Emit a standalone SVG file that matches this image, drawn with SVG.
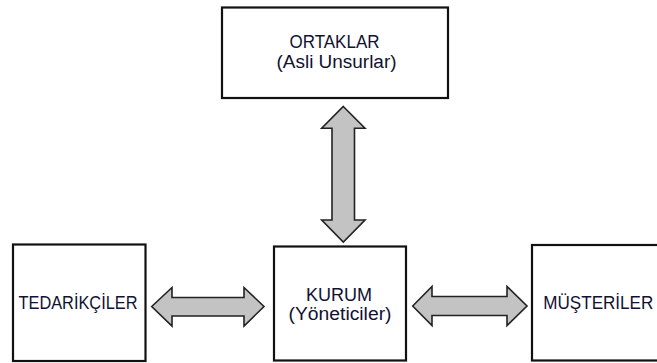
<svg xmlns="http://www.w3.org/2000/svg" width="657" height="363" viewBox="0 0 657 363">
<style>
.box{fill:#ffffff;stroke:#111111;stroke-width:2.2}
.arr{fill:#c3c3c3;stroke:#222222;stroke-width:1.6;stroke-linejoin:miter}
.t{font-family:"Liberation Sans",Arial,sans-serif;font-size:18px;fill:#111133;text-anchor:middle}
</style>
<rect width="657" height="363" fill="#ffffff"/>
<g id="connectors">
<path class="arr" d="M343.3,106.5 L365,128.3 L354.5,128.3 L354.5,220 L365,220 L343.3,242 L321.7,220 L332,220 L332,128.3 L321.7,128.3 Z"/>
<path class="arr" d="M151.7,306.5 L172,287.5 L172,297.5 L244,297.5 L244,287.5 L264,306.5 L244,326 L244,316 L172,316 L172,326 Z"/>
<path class="arr" d="M412.7,306 L432,286.5 L432,296.5 L507,296.5 L507,286.5 L527,306 L507,325.5 L507,315.5 L432,315.5 L432,325.5 Z"/>
</g>
<g id="ortaklar">
<rect class="box" x="222" y="7.5" width="226" height="90.5"/>
<text class="t" x="334.5" y="48.3" textLength="90" lengthAdjust="spacingAndGlyphs">ORTAKLAR</text>
<text class="t" x="336.5" y="68.3" textLength="120" lengthAdjust="spacingAndGlyphs">(Asli Unsurlar)</text>
</g>
<g id="tedarikciler">
<rect class="box" x="13" y="244.5" width="132.5" height="116.5"/>
<text class="t" x="78" y="309" textLength="119" lengthAdjust="spacingAndGlyphs">TEDARİKÇİLER</text>
</g>
<g id="kurum">
<rect class="box" x="274" y="246.5" width="132" height="114"/>
<text class="t" x="339" y="300.5" textLength="66" lengthAdjust="spacingAndGlyphs">KURUM</text>
<text class="t" x="340" y="320" textLength="103" lengthAdjust="spacingAndGlyphs">(Yöneticiler)</text>
</g>
<g id="musteriler">
<rect class="box" x="532" y="245" width="140" height="115.5"/>
<text class="t" x="598.3" y="308.5" textLength="110" lengthAdjust="spacingAndGlyphs">MÜŞTERİLER</text>
</g>
</svg>
